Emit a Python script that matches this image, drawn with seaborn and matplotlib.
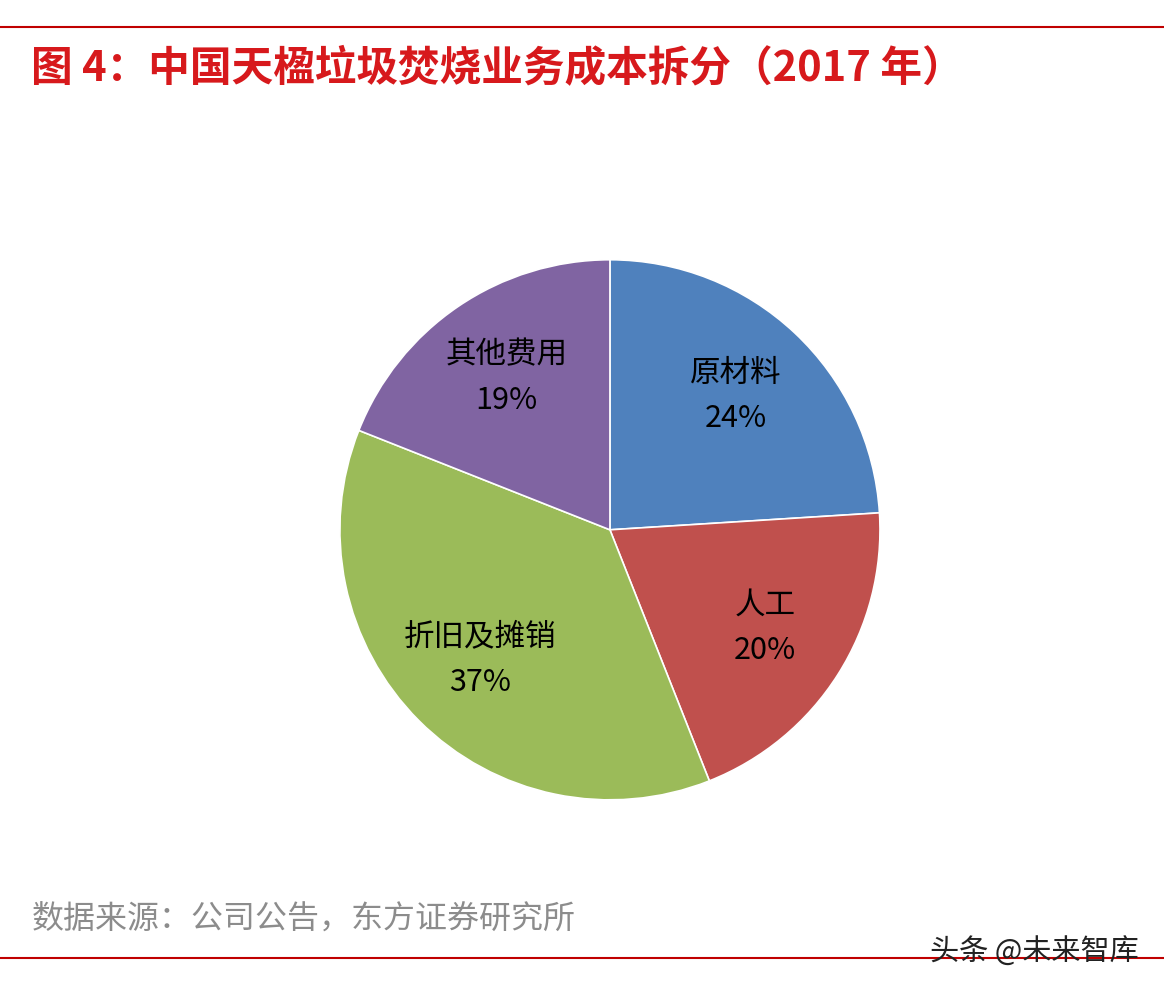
import matplotlib
matplotlib.use("Agg")
import matplotlib.pyplot as plt
import seaborn as sns

# data
categories = ["原材料", "人工", "折旧及摊销", "其他费用"]
shares = [24, 20, 37, 19]
colors = ["#4F81BD", "#C0504D", "#9BBB59", "#8064A2"]

sns.set_style("white")
plt.rcParams['font.family'] = ['Noto Sans CJK SC', 'DejaVu Sans']

fig = plt.figure(figsize=(11.64, 9.94), dpi=100)

# pie
ax = fig.add_axes([0.524 - 0.232, 0.467 - 0.2717, 0.464, 0.5434])
labels_iter = iter(categories)
ax.pie(shares, colors=colors, startangle=90, counterclock=False,
       wedgeprops=dict(edgecolor="white", linewidth=1.2),
       autopct=lambda p: f"{next(labels_iter)}\n{p:.0f}%", pctdistance=0.68,
       textprops=dict(fontsize=22, color="black", linespacing=1.6))
ax.set_xlim(-1, 1)
ax.set_ylim(-1, 1)
ax.set_aspect("equal")
ax.axis("off")

# header / footer
fig.add_artist(plt.Line2D([0, 1], [1 - 27 / 994] * 2, color="#C00000", lw=1.5))
fig.add_artist(plt.Line2D([0, 1], [1 - 958 / 994] * 2, color="#C00000", lw=1.5))
fig.text(0.027, 1 - 68 / 994, "图 4：中国天楹垃圾焚烧业务成本拆分（2017 年）",
         fontsize=30, fontweight="bold", color="#D7191C", va="center")
fig.text(0.027, 1 - 920 / 994, "数据来源：公司公告，东方证券研究所",
         fontsize=23, color="#8C8C8C", va="center")
fig.text(0.978, 1 - 953 / 994, "头条 @未来智库", fontsize=21, color="#222222",
         va="center", ha="right")

fig.savefig("out.png", dpi=100, facecolor="white")
